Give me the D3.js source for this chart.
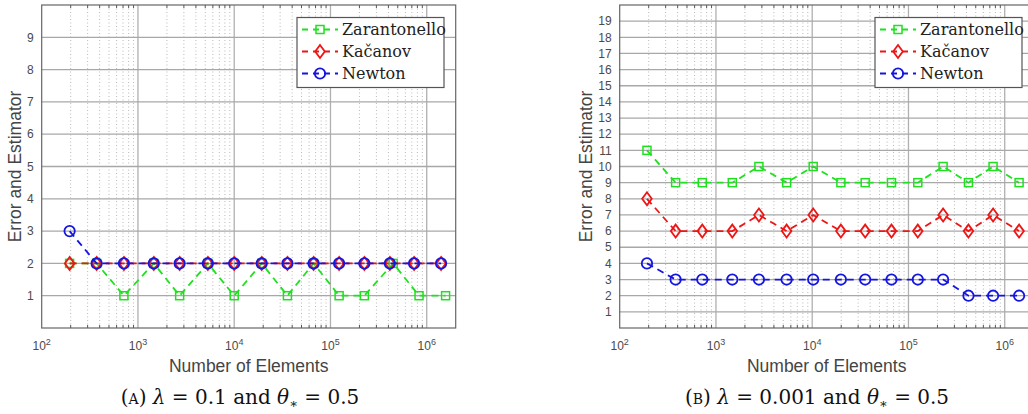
<!DOCTYPE html>
<html><head><meta charset="utf-8">
<script src="https://cdn.jsdelivr.net/npm/d3@7"></script>
<style>body{margin:0;background:#fff;overflow:hidden}</style>
</head><body><svg id="c" width="1028" height="414"></svg>
<script>
// ---- data ----
const elementsA    = [195, 372, 715, 1460, 2710, 5320, 10000, 19300, 35700, 66800, 123000, 225000, 414000, 739000, 1410000];
const elementsAZar = [195, 372, 715, 1460, 2710, 5320, 10000, 19300, 35700, 66800, 123000, 225000, 448000, 832000, 1570000];
const elementsB    = [192, 381, 721, 1478, 2795, 5420, 10240, 19850, 35500, 66600, 125000, 229000, 420000, 757000, 1410000];
const zarA = [2, 2, 1, 2, 1, 2, 1, 2, 1, 2, 1, 1, 2, 1, 1];
const kacA = [2, 2, 2, 2, 2, 2, 2, 2, 2, 2, 2, 2, 2, 2, 2];
const newA = [3, 2, 2, 2, 2, 2, 2, 2, 2, 2, 2, 2, 2, 2, 2];
const zarB = [11, 9, 9, 9, 10, 9, 10, 9, 9, 9, 9, 10, 9, 10, 9];
const kacB = [8, 6, 6, 6, 7, 6, 7, 6, 6, 6, 6, 7, 6, 7, 6];
const newB = [4, 3, 3, 3, 3, 3, 3, 3, 3, 3, 3, 3, 2, 2, 2];
const yTicksA = [1, 2, 3, 4, 5, 6, 7, 8, 9];
const yTicksB = [1, 2, 3, 4, 5, 6, 7, 8, 9, 10, 11, 12, 13, 14, 15, 16, 17, 18, 19];
const xTickExps = [2, 3, 4, 5, 6];
const seriesNames = ["Zarantonello", "Kačanov", "Newton"];
const seriesColors = ["#1fe01f", "#ee1515", "#1515e0"];
const seriesMarkers = ["square", "diamond", "circle"];
const xLabel = "Number of Elements";
const yLabel = "Error and Estimator";

const SANS = "'Liberation Sans', Arial, sans-serif";
const SERIF = "'DejaVu Serif', serif";
const svg = d3.select("#c");

function marker(g, type, x, y, color) {
  if (type === "square") {
    g.append("rect").attr("x", x - 4).attr("y", y - 4).attr("width", 8).attr("height", 8)
      .attr("fill", "none").attr("stroke", color).attr("stroke-width", 1.5);
  } else if (type === "diamond") {
    g.append("path").attr("d", `M${x},${y-6.5}L${x+4.8},${y}L${x},${y+6.5}L${x-4.8},${y}Z`)
      .attr("fill", "none").attr("stroke", color).attr("stroke-width", 1.8);
  } else {
    g.append("circle").attr("cx", x).attr("cy", y).attr("r", 5.2)
      .attr("fill", "none").attr("stroke", color).attr("stroke-width", 1.8);
  }
}

function panel(opt) {
  const {left, top, width, height, yMax, yTicks, series, legendX, caption, yLabelOffset} = opt;
  const g = svg.append("g");
  const x = d3.scaleLog().domain([100, 2e6]).range([left, left + width]);
  const y = d3.scaleLinear().domain([0, yMax]).range([top + height, top]);
  // minor grid
  const minor = [];
  for (let e = 2; e <= 6; e++) for (let m = 2; m <= 9; m++) { const v = m * Math.pow(10, e); if (v < 2e6) minor.push(v); }
  g.selectAll(".mg").data(minor).enter().append("line")
    .attr("x1", d => x(d)).attr("x2", d => x(d)).attr("y1", top).attr("y2", top + height)
    .attr("stroke", "#b8b8b8").attr("stroke-width", 1).attr("stroke-dasharray", "1,2.5");
  // major grid
  g.selectAll(".gx").data(xTickExps.slice(1)).enter().append("line")
    .attr("x1", d => x(Math.pow(10, d))).attr("x2", d => x(Math.pow(10, d)))
    .attr("y1", top).attr("y2", top + height).attr("stroke", "#b0b0b0").attr("stroke-width", 1.3);
  g.selectAll(".gy").data(yTicks).enter().append("line")
    .attr("x1", left).attr("x2", left + width).attr("y1", d => y(d)).attr("y2", d => y(d))
    .attr("stroke", "#a8a8a8").attr("stroke-width", 1.3);
  // ticks
  minor.forEach(v => {
    g.append("line").attr("x1", x(v)).attr("x2", x(v)).attr("y1", top + height).attr("y2", top + height - 3).attr("stroke", "#555");
    g.append("line").attr("x1", x(v)).attr("x2", x(v)).attr("y1", top).attr("y2", top + 3).attr("stroke", "#555");
  });
  // box
  g.append("rect").attr("x", left).attr("y", top).attr("width", width).attr("height", height)
    .attr("fill", "none").attr("stroke", "#666").attr("stroke-width", 1.2);
  // tick labels
  g.selectAll(".yl").data(yTicks).enter().append("text")
    .attr("x", left - 8).attr("y", d => y(d)).attr("dy", "0.35em").attr("text-anchor", "end")
    .attr("font-family", SANS).attr("font-size", 12).attr("fill", "#4a4a4a")
    .text(d => d);
  xTickExps.forEach(e => {
    const t = g.append("text").attr("x", x(Math.pow(10, e))).attr("y", top + height + 22)
      .attr("text-anchor", "middle").attr("font-family", SANS)
      .attr("font-size", 12).attr("fill", "#4a4a4a");
    t.append("tspan").text("10");
    t.append("tspan").attr("dy", -5).attr("font-size", 9).text(e);
  });
  // axis labels
  g.append("text").attr("x", left + width / 2).attr("y", top + height + 44)
    .attr("text-anchor", "middle").attr("font-family", SANS)
    .attr("font-size", 17.5).attr("fill", "#444").text(xLabel);
  g.append("text").attr("transform", `translate(${left - yLabelOffset},${top + height / 2}) rotate(-90)`)
    .attr("text-anchor", "middle").attr("font-family", SANS)
    .attr("font-size", 17.5).attr("fill", "#444").text(yLabel);
  // series
  const line = d3.line().x(d => x(d[0])).y(d => y(d[1]));
  series.forEach((s, i) => {
    const pts = s.xs.map((v, j) => [v, s.ys[j]]);
    g.append("path").attr("d", line(pts)).attr("fill", "none").attr("stroke", seriesColors[i])
      .attr("stroke-width", 1.8).attr("stroke-dasharray", "7,5");
    pts.forEach(p => marker(g, seriesMarkers[i], x(p[0]), y(p[1]), seriesColors[i]));
  });
  // legend
  const lg = g.append("g");
  lg.append("rect").attr("x", legendX).attr("y", 17.5).attr("width", 147).attr("height", 70)
    .attr("fill", "#fff").attr("stroke", "#555").attr("stroke-width", 1.2);
  seriesNames.forEach((n, i) => {
    const yy = 29.5 + i * 22;
    lg.append("line").attr("x1", legendX + 5).attr("x2", legendX + 41).attr("y1", yy).attr("y2", yy)
      .attr("stroke", seriesColors[i]).attr("stroke-width", 1.8).attr("stroke-dasharray", "6,5");
    marker(lg, seriesMarkers[i], legendX + 23, yy, seriesColors[i]);
    lg.append("text").attr("x", legendX + 45).attr("y", yy).attr("dy", "0.36em")
      .attr("font-family", SERIF).attr("font-size", 16)
      .attr("fill", "#222").text(n);
  });
  // caption
  const c = g.append("text").attr("x", caption.cx).attr("y", 404).attr("text-anchor", "middle")
    .attr("font-family", SERIF).attr("font-size", 20).attr("fill", "#111");
  c.append("tspan").text("(");
  c.append("tspan").attr("font-size", 14).text(caption.letter);
  c.append("tspan").text(") ");
  c.append("tspan").attr("font-style", "italic").text("λ");
  c.append("tspan").text(" = " + caption.lambda + " and ");
  c.append("tspan").attr("font-style", "italic").text("θ");
  c.append("tspan").attr("dy", 4).attr("font-size", 13).text("∗");
  c.append("tspan").attr("dy", -4).text(" = 0.5");
}

panel({left: 41.7, top: 5, width: 414, height: 323, yMax: 10, yTicks: yTicksA, legendX: 297, yLabelOffset: 21,
  series: [{xs: elementsAZar, ys: zarA}, {xs: elementsA, ys: kacA}, {xs: elementsA, ys: newA}],
  caption: {cx: 240, letter: "A", lambda: "0.1"}});
panel({left: 619.7, top: 5, width: 414, height: 323, yMax: 20, yTicks: yTicksB, legendX: 875, yLabelOffset: 28,
  series: [{xs: elementsB, ys: zarB}, {xs: elementsB, ys: kacB}, {xs: elementsB, ys: newB}],
  caption: {cx: 817, letter: "B", lambda: "0.001"}});
</script>
</body></html>
